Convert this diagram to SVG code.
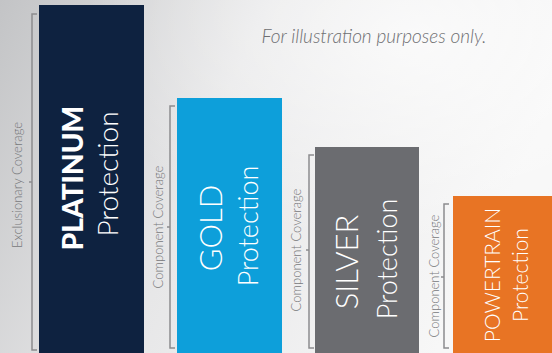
<svg xmlns="http://www.w3.org/2000/svg" width="552" height="353" viewBox="0 0 552 353">
<defs>
<linearGradient id="bg" x1="0" y1="0" x2="1" y2="0.3">
<stop offset="0" stop-color="#c3c4c6"/>
<stop offset="0.45" stop-color="#e6e6e7"/>
<stop offset="1" stop-color="#f7f7f7"/>
</linearGradient>
<radialGradient id="glow" cx="0.75" cy="0.1" r="0.6">
<stop offset="0" stop-color="#ffffff" stop-opacity="0.7"/>
<stop offset="1" stop-color="#ffffff" stop-opacity="0"/>
</radialGradient>
<style>
.br{fill:none;stroke:#8c8c8e;stroke-width:1.5}
.cov{font-family:Lato,"Open Sans",sans-serif;font-weight:300;font-size:13px;fill:#77787b;text-anchor:middle}
.lbl{font-family:Lato,"Open Sans",sans-serif;font-weight:300;fill:#ffffff;text-anchor:middle}
.big{font-family:Lato,"Open Sans",sans-serif;font-weight:900;fill:#ffffff;text-anchor:middle}
</style>
</defs>
<rect width="552" height="353" fill="url(#bg)"/>
<rect width="552" height="353" fill="url(#glow)"/>
<text x="374" y="43" style="font-family:Lato,'Open Sans',sans-serif;font-weight:300;font-style:italic;font-size:19px;fill:#6d6e71" text-anchor="middle">For illustration purposes only.</text>
<g id="platinum">
<rect x="39" y="5" width="105" height="348" fill="#0e2240"/>
<path class="br" d="M37 14H32V350H37M32 182H29"/>
<text class="cov" transform="translate(22,185) rotate(-90)">Exclusionary Coverage</text>
<text class="big" font-size="28" transform="translate(83,178) rotate(-90)">PLATINUM</text>
<text class="lbl" font-size="28" transform="translate(118,174) rotate(-90)">Protection</text>
</g>
<g id="gold">
<rect x="177" y="98" width="105" height="255" fill="#0d9fda"/>
<path class="br" d="M175 106H170V348H175M170 227H167"/>
<text class="cov" transform="translate(163,227) rotate(-90)">Component Coverage</text>
<text class="lbl" font-size="31" transform="translate(222,228) rotate(-90)">GOLD</text>
<text class="lbl" font-size="27" transform="translate(258,226) rotate(-90)">Protection</text>
</g>
<g id="silver">
<rect x="315" y="147" width="104" height="206" fill="#6b6c70"/>
<path class="br" d="M314 155H309V348H314M309 250H306"/>
<text class="cov" transform="translate(301,250) rotate(-90)">Component Coverage</text>
<text class="lbl" font-size="31" transform="translate(358,262) rotate(-90)">SILVER</text>
<text class="lbl" font-size="27" transform="translate(397,259) rotate(-90)">Protection</text>
</g>
<g id="powertrain">
<rect x="453" y="196" width="99" height="157" fill="#e87424"/>
<path class="br" d="M449 204H444V348H449M444 277H441"/>
<text class="cov" transform="translate(439,276) rotate(-90)">Component Coverage</text>
<text class="lbl" font-size="21" transform="translate(500,275) rotate(-90)">POWERTRAIN</text>
<text class="lbl" font-size="21" transform="translate(528,275) rotate(-90)">Protection</text>
</g>
<g id="connectors"/>
</svg>
